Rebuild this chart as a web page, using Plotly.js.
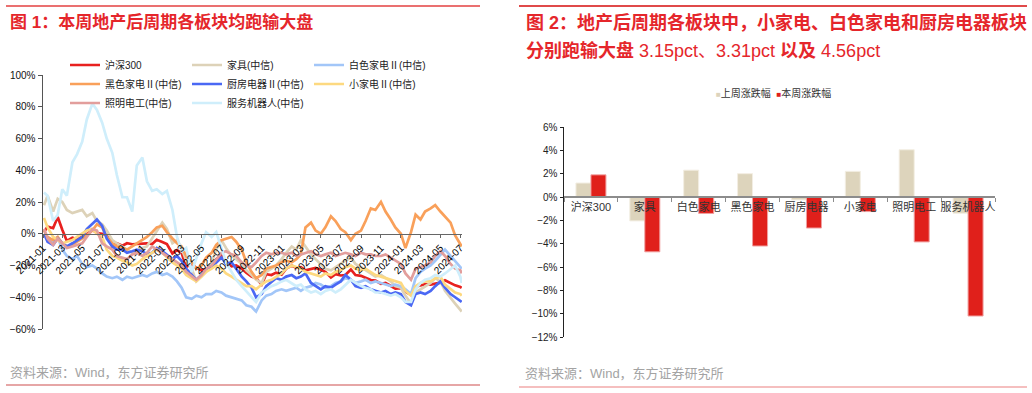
<!DOCTYPE html>
<html><head><meta charset="utf-8">
<script src="https://cdn.plot.ly/plotly-3.0.1.min.js"></script>
<style>
html,body{margin:0;padding:0;background:#fff;}
#wrap{position:relative;width:1032px;height:393px;overflow:hidden;background:#fff;}
#left{position:absolute;left:0;top:0;width:516px;height:393px;}
#right{position:absolute;left:516px;top:0;width:516px;height:393px;}
</style></head><body>
<div id="wrap"><div id="left"></div><div id="right"></div></div>
<script>
// ---------- data: figure 1 (semi-monthly, % change since 2021-01) ----------
const dates = (function(){const d=['2021-01-04'];for(let y=2021;y<=2024;y++){for(let m=1;m<=12;m++){if(y===2024&&m>7)break;const mm=(m<10?'0':'')+m;if(!(y===2021&&m===1))d.push(y+'-'+mm+'-01');if(!(y===2024&&m===7))d.push(y+'-'+mm+'-15');}}d.push('2024-07-05');return d;})();

const hs300 = [1.0,4.5, 3.5,10.5, 2.5,-4.5, -2.5,-3.5, -1.7,-0.5, 2.5,0.5, 0,-1, -8,-6, -7.5,-6, -6.6,-6.5, -6.5,-6, -6.5,-3.8,
 -5.2,-6.5, -12.4,-10.3, -12,-21, -19,-21.5, -23,-22, -21,-16, -13.5,-17.5, -20.5,-20, -22,-24.5, -27,-28, -32,-25.5, -26,-24.5,
 -25.7,-22, -20,-21.5, -21,-23, -22.3,-21.5, -22.7,-24, -27.5,-25.5, -26.3,-26, -22.5,-26, -26.5,-28, -29.2,-29.5, -31.5,-31, -33,-34.5,
 -34.2,-36.5, -38.5,-33.5, -32.5,-31.8, -32,-31.5, -30.8,-29.3, -31.3,-32.5, -33.6,-34.1];
const furniture = [18,24, 14,22, 20,15, 13,14, 15,11, 13,8, 6,2, -4,-6, -8,-10, -12,-11, -9,-8, -3,2,
 7,3, -6,-4, -9,-17, -22,-30, -27,-24, -18,-10, -4,-9, -14,-16, -19,-23, -26,-29, -31,-24, -22,-20,
 -16,-12, -8,-10, -4,-8, -13,-16, -19,-22, -23,-21, -19,-17, -15,-19, -21,-23, -25,-27, -26,-28, -30,-33,
 -34,-39, -44,-37, -35,-33, -31,-28, -30,-36, -40,-44, -48,-49];
const whiteGoods = [0,-3, -6,-2, -10,-14, -16,-14, -19,-21, -20,-22, -25,-27, -28,-27, -29,-27, -28,-27, -26,-27, -25,-24,
 -26,-25, -27,-30, -34,-40, -41,-39, -40,-38, -38,-36, -37,-39, -40,-41, -42,-45, -46,-49, -42,-39, -38,-36,
 -35,-36, -35,-34, -36,-34, -33,-31, -32,-34, -33,-31, -30,-28, -29,-31, -30,-29, -31,-30, -31,-32, -33,-32,
 -33,-35, -38,-28, -24,-22, -20,-17, -13,-10, -14,-17, -21,-22];
const blackApp = [2,-2, -4,-2, -6,-8, -7,-5, -3,-1, 2,6, 4,-2, -6,-8, -9,-10, -8,-6, -4,-2, 1,4,
 5,1, -3,-6, -8,-14, -18,-22, -20,-15, -12,-7, -4,-3, -2,-5, -10,-18, -24,-28, -26,-22, -21,-20,
 -18,-17, -18,-16, -13,4, 7,2, 0,4, 11,8, 3,1, -4,0, 2,8, 16,15, 20,14, 9,4,
 0,-9, 1,12, 9,14, 16,18, 14,11, 7,-1, -6,-8];
const kitchen = [0,-5, -7,-3, -6,-8, -6,-4, -2,3, 6,9, 5,-3, -8,-10, -10,-12, -11,-10, -11,-13, -12,-9,
 -11,-13, -16,-14, -17,-22, -26,-29, -26,-22, -21,-18, -15,-19, -18,-22, -27,-30, -34,-40, -38,-33, -30,-28,
 -29,-27, -26,-28, -27,-25, -31,-33, -35,-33, -34,-32, -30,-26, -29,-33, -34,-33, -35,-36, -37,-36, -38,-37,
 -38,-43, -45,-38, -37,-38, -36,-33, -30,-34, -38,-40, -42,-43];
const smallApp = [10,4, -2,-4, -6,-5, -4,-2, 0,2, 3,0, -2,-10, -14,-15, -17,-18, -20,-19, -16,-14, -12,-10,
 -12,-15, -18,-20, -22,-26, -28,-30, -27,-24, -22,-20, -22,-25, -27,-29, -31,-33, -33,-35, -32,-30, -29,-27,
 -25,-22, -20,-21, -22,-24, -25,-26, -27,-25, -26,-24, -23,-21, -20,-22, -23,-22, -24,-26, -27,-28, -29,-30,
 -31,-36, -39,-33, -31,-30, -30,-28, -27,-32, -35,-37, -38,-39];
const lighting = [3,-3, -7,-3, -6,-9, -8,-7, -6,-2, 3,2, -6,-8, -10,-14, -15,-16, -13,-12, -14,-12, -8,-10,
 -12,-14, -16,-18, -20,-24, -27,-29, -26,-22, -20,-16, -12,-11, -13,-14, -18,-20, -21,-18, -14,-12, -13,-12,
 -12,-13, -12,-14, -13,-12, -11,-13, -14,-13, -12,-14, -13,-12, -13,-14, -12,-13, -13,-14, -14,-13, -15,-17,
 -19,-25, -29,-22, -21,-20, -18,-14, -11,-14, -19,-22, -23,-25];
const serviceRobot = [26,24, 8,12, 28,24, 45,50, 58,72, 82,78, 70,60, 51,37, 23,23, 14,43, 48,33, 27,28,
 25,27, 15,-2, -11,-9, -24,-15, -6,1, -2,1, -10,-18, -24,-29, -33,-36, -40,-43, -37,-35, -33,-32,
 -30,-29, -31,-33, -32,-35, -37,-36, -38,-36, -35,-37, -35,-32, -29,-31, -33,-34, -35,-37, -37,-38, -39,-38,
 -40,-43, -43,-35, -31,-29, -28,-26, -27,-25, -22,-20, -27,-31];

const seriesNames = ['沪深300','家具(中信)','白色家电Ⅱ(中信)','黑色家电Ⅱ(中信)','厨房电器Ⅱ(中信)','小家电Ⅱ(中信)','照明电工(中信)','服务机器人(中信)'];
const seriesData = [hs300, furniture, whiteGoods, blackApp, kitchen, smallApp, lighting, serviceRobot];
const seriesColors = ['#e8211f','#ddd2b8','#a2c6f8','#f9a05a','#4a68f4','#fdd980','#e29e9c','#cfeefb'];

// ---------- data: figure 2 ----------
const barCats = ['沪深300','家具','白色家电','黑色家电','厨房电器','小家电','照明电工','服务机器人'];
const lastWeek = [1.2, -2.05, 2.3, 2.0, -0.25, 2.2, 4.05, -1.4];
const thisWeek = [1.9, -4.7, -1.41, -4.2, -2.66, -1.25, -3.85, -10.2];

const FONT = 'Liberation Sans, Arial, Noto Sans CJK SC, sans-serif';
function frame(l,t,r,b,W,H){const w=W-l-r,h=H-t-b;return {x:px=>(px-l)/w,y:py=>(t+h-py)/h};}

// ---------- left figure ----------
const fl = frame(43,75,54,64,516,393);
const leftTraces = seriesData.map((s,i)=>({type:'scatter',mode:'lines',x:dates,y:s,name:seriesNames[i],
  line:{color:seriesColors[i],width:2.7},hoverinfo:'skip'}));
const leftLayout = {
  width:516,height:393,margin:{l:43,r:54,t:75,b:64,autoexpand:false},
  paper_bgcolor:'rgba(0,0,0,0)',plot_bgcolor:'rgba(0,0,0,0)',
  font:{family:FONT,size:10,color:'#111'},
  showlegend:true,
  legend:{orientation:'h',x:fl.x(65),xanchor:'left',y:fl.y(50.5),yanchor:'top',entrywidth:77,entrywidthmode:'pixels',
    font:{family:FONT,size:10,color:'#222'},bgcolor:'rgba(0,0,0,0)',traceorder:'normal'},
  xaxis:{type:'date',range:['2021-01-01','2024-07-06'],anchor:'free',position:0.375,tickmode:'linear',tick0:'2021-01-01',dtick:'M2',
    tickformat:'%Y-%m',tickangle:-45,showline:true,linecolor:'#666',linewidth:1.5,ticks:'outside',ticklen:3,tickcolor:'#666',
    tickfont:{family:FONT,size:10,color:'#000'},showgrid:false,zeroline:false},
  yaxis:{range:[-60,100],tickmode:'linear',tick0:-60,dtick:20,ticksuffix:'%',showline:true,linecolor:'#555',linewidth:1.5,
    ticks:'outside',ticklen:4,tickcolor:'#555',tickfont:{family:FONT,size:10,color:'#111'},showgrid:false,zeroline:false},
  annotations:[
    {xref:'paper',yref:'paper',x:fl.x(8),y:fl.y(22.5),xanchor:'left',yanchor:'middle',showarrow:false,
     text:'<b>图 1：本周地产后周期各板块均跑输大盘</b>',font:{family:FONT,size:17,color:'#e5262b'}},
    {xref:'paper',yref:'paper',x:fl.x(8),y:fl.y(372),xanchor:'left',yanchor:'middle',showarrow:false,
     text:'资料来源：Wind，东方证券研究所',font:{family:FONT,size:13,color:'#a3a3a3'}}
  ],
  shapes:[
    {type:'line',xref:'paper',yref:'paper',x0:fl.x(6),x1:fl.x(480),y0:fl.y(6),y1:fl.y(6),line:{color:'#ea7070',width:2}},
    {type:'line',xref:'paper',yref:'paper',x0:fl.x(6),x1:fl.x(480),y0:fl.y(385),y1:fl.y(385),line:{color:'#de8888',width:1.5}}
  ]
};
Plotly.newPlot('left',leftTraces,leftLayout,{staticPlot:true,displayModeBar:false});

// ---------- right figure ----------
const fr = frame(48,127,37,56,516,393);
const rightTraces = [
  {type:'bar',x:barCats,y:lastWeek,name:'上周涨跌幅',marker:{color:'#ddd4bc',line:{color:'#f3eee3',width:1}},hoverinfo:'skip'},
  {type:'bar',x:barCats,y:thisWeek,name:'本周涨跌幅',marker:{color:'#e0201b',line:{color:'#f0a0a0',width:1}},hoverinfo:'skip'}
];
const rightLayout = {
  width:516,height:393,margin:{l:48,r:37,t:127,b:56,autoexpand:false},
  paper_bgcolor:'rgba(0,0,0,0)',plot_bgcolor:'rgba(0,0,0,0)',
  font:{family:FONT,size:10,color:'#111'},
  showlegend:false,barmode:'group',bargap:0.443,bargroupgap:0,
  xaxis:{type:'category',range:[-0.5,7.5],anchor:'free',position:12/18,showline:true,linecolor:'#8c8c8c',linewidth:2,
    ticks:'outside',tickson:'boundaries',ticklen:4,tickcolor:'#8c8c8c',tickangle:0,tickfont:{family:FONT,size:11,color:'#333'},
    showgrid:false,zeroline:false},
  yaxis:{range:[-12,6],tickmode:'linear',tick0:-12,dtick:2,ticksuffix:'%',showline:true,linecolor:'#222',linewidth:1.5,
    ticks:'outside',ticklen:3,tickcolor:'#222',tickfont:{family:FONT,size:10,color:'#222'},showgrid:false,zeroline:false},
  annotations:[
    {xref:'paper',yref:'paper',x:fr.x(8),y:fr.y(22),xanchor:'left',yanchor:'middle',showarrow:false,
     text:'<b>图 2：地产后周期各板块中，小家电、白色家电和厨房电器板块</b>',font:{family:FONT,size:18,color:'#e5262b'}},
    {xref:'paper',yref:'paper',x:fr.x(8),y:fr.y(50),xanchor:'left',yanchor:'middle',showarrow:false,
     text:'<b>分别跑输大盘</b> 3.15pct、3.31pct <b>以及</b> 4.56pct',font:{family:FONT,size:18,color:'#e5262b'}},
    {xref:'paper',yref:'paper',x:fr.x(257.5),y:fr.y(92.7),xanchor:'center',yanchor:'middle',showarrow:false,
     text:'<span style="color:#ddd4bc;font-size:8px">■</span>上周涨跌幅  <span style="color:#e0201b;font-size:8px">■</span>本周涨跌幅',
     font:{family:FONT,size:10,color:'#333'}},
    {xref:'paper',yref:'paper',x:fr.x(7),y:fr.y(373.3),xanchor:'left',yanchor:'middle',showarrow:false,
     text:'资料来源：Wind，东方证券研究所',font:{family:FONT,size:13,color:'#a3a3a3'}}
  ],
  shapes:[
    {type:'line',xref:'paper',yref:'paper',x0:fr.x(3),x1:fr.x(511),y0:fr.y(6),y1:fr.y(6),line:{color:'#e04a4a',width:2}},
    {type:'line',xref:'paper',yref:'paper',x0:fr.x(3),x1:fr.x(511),y0:fr.y(387),y1:fr.y(387),line:{color:'#f2aaaa',width:1.5}}
  ]
};
Plotly.newPlot('right',rightTraces,rightLayout,{staticPlot:true,displayModeBar:false});
</script></body></html>
